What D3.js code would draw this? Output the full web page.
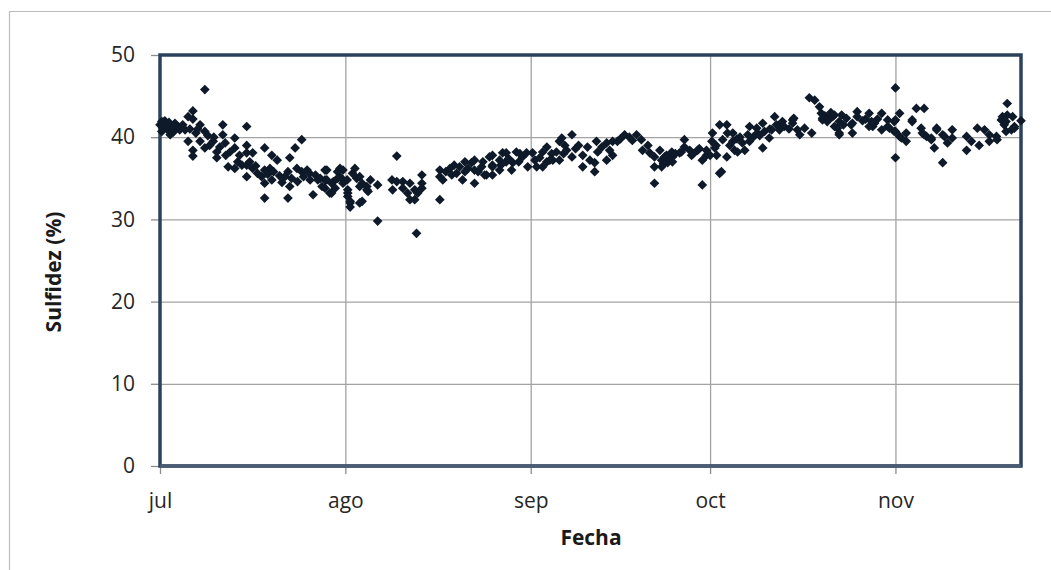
<!DOCTYPE html>
<html>
<head>
<meta charset="utf-8">
<script src="https://cdn.jsdelivr.net/npm/d3@7"></script>
<style>
  body { margin: 0; background: #fff; }
  svg { display: block; font-family: 'Open Sans', sans-serif; }
</style>
</head>
<body>
<svg id="chart"></svg>
<script>
// [dia del mes, sulfidez %]
const julio = [
  [1.0,41.5],[1.3,41.9],[1.3,40.7],[1.5,41.1],[1.8,42.0],[2.2,41.5],[2.3,40.9],[2.5,41.8],[2.7,40.3],[3.0,41.1],
  [3.2,40.6],[3.5,41.7],[3.5,40.9],[4.0,41.3],[4.3,40.9],[4.8,41.5],[5.2,40.9],[5.7,42.5],[5.7,39.5],[6.0,41.0],
  [6.5,43.2],[6.5,42.2],[6.5,38.4],[6.5,37.7],[7.0,40.5],[7.3,41.0],[7.7,41.5],[7.7,39.5],[8.5,45.8],[8.5,40.7],
  [8.5,38.7],[9.0,40.2],[9.3,39.0],[9.9,39.5],[10.0,40.0],[10.5,38.2],[10.5,37.5],[11.0,38.8],[11.5,41.5],[11.5,40.3],
  [11.9,39.3],[12.0,37.8],[12.4,36.4],[12.7,38.2],[13.5,36.2],[13.5,39.9],[13.5,38.7],[14.0,37.0],[14.3,37.8],[14.7,36.6],
  [15.5,41.3],[15.5,39.0],[15.5,38.1],[15.5,36.6],[15.5,35.2],[16.0,37.0],[16.5,38.1],[16.5,36.2],[17.0,36.5],[17.3,35.6],
  [18.0,35.2],[18.5,38.7],[18.5,36.0],[18.5,34.4],[18.5,32.6],[19.0,35.5],[19.4,36.2],[19.7,37.8],[19.7,34.8],[20.0,35.8],
  [20.6,37.2],[21.0,35.3],[21.4,34.5],[21.9,35.2],[22.4,35.8],[22.4,32.6],[22.7,37.5],[22.7,34.0],[23.0,35.0],[23.6,38.7],
  [23.9,36.2],[24.0,34.6],[24.7,39.7],[24.7,35.8],[25.0,35.2],[25.6,36.0],[26.0,35.6],[26.1,34.8],[26.6,33.0],[27.0,35.4],
  [27.4,34.8],[27.8,35.0],[28.1,34.0],[28.6,36.0],[28.6,34.8],[28.6,33.8],[28.9,36.0],[28.9,34.8],[29.4,33.2],[29.7,34.4],
  [29.7,33.2],[30.0,34.6],[30.3,33.8],[30.7,35.8],[30.7,35.0],[31.1,36.2],[31.1,35.2],[31.6,36.0],[31.6,34.8],[31.6,34.4]
]
const agosto = [
  [1.3,34.8],[1.4,33.2],[1.4,33.6],[1.4,32.8],[1.8,32.0],[1.8,31.5],[1.8,32.2],[2.2,35.6],[2.6,36.2],[2.9,35.0],
  [3.4,35.2],[3.4,34.0],[3.4,32.0],[3.8,34.4],[3.8,32.2],[4.6,34.0],[4.6,33.6],[4.8,33.4],[5.2,34.8],[6.4,34.2],
  [6.4,29.8],[8.8,34.8],[8.9,33.6],[9.6,37.7],[9.6,34.6],[10.6,34.6],[10.6,33.8],[11.4,33.2],[11.8,34.4],[11.8,32.4],
  [12.6,32.4],[12.6,33.6],[12.9,28.3],[13.1,33.2],[13.8,35.4],[13.8,34.4],[13.8,33.8],[16.8,32.4],[16.8,36.0],[16.8,35.2],
  [17.3,34.8],[17.8,35.8],[18.5,36.2],[18.8,35.4],[19.2,36.6],[19.6,35.6],[20.1,36.4],[20.6,34.8],[21.0,37.0],[21.0,35.8],
  [21.5,36.2],[22.1,36.9],[22.6,37.2],[22.6,36.0],[22.6,34.4],[23.2,35.8],[23.8,36.4],[24.0,37.0],[24.3,35.4],[24.6,35.4],
  [25.1,37.6],[25.6,36.6],[25.6,35.4],[25.6,37.8],[25.6,36.4],[26.8,37.2],[26.8,36.0],[27.0,36.6],[27.3,38.1],[27.9,38.1],
  [27.9,37.0],[28.3,37.4],[28.8,36.0],[29.0,36.9],[29.6,38.2],[30.0,37.0],[30.2,38.0],[30.6,37.6],[31.3,38.1],[31.5,36.4]
]
const septiembre = [
  [1.3,38.1],[1.7,37.2],[2.0,36.4],[2.5,37.5],[3.0,38.2],[3.0,36.4],[3.7,38.8],[3.7,37.0],[4.2,37.2],[4.5,38.0],
  [4.7,37.2],[5.3,38.2],[5.8,39.5],[5.8,37.2],[6.2,39.9],[6.5,38.0],[6.7,39.0],[7.0,38.4],[7.9,40.3],[7.9,37.6],
  [8.5,38.6],[9.0,39.0],[9.7,37.8],[9.7,36.4],[10.5,38.8],[10.9,37.2],[11.7,36.9],[11.7,35.8],[12.0,39.5],[12.2,38.2],
  [12.9,38.8],[13.7,39.3],[13.7,37.2],[14.2,38.4],[14.7,37.8],[14.7,39.5],[15.5,39.5],[16.0,39.8],[16.7,40.3],[17.5,40.0],
  [18.0,39.6],[18.7,40.3],[19.5,39.7],[19.7,38.4],[20.6,39.0],[20.9,38.1],[21.7,37.6],[21.7,36.4],[21.7,34.4],[22.6,38.4],
  [22.9,37.2],[22.9,36.4],[23.2,36.8],[23.4,37.6],[23.7,37.8],[23.9,36.9],[24.2,37.2],[24.6,38.2],[24.7,37.6],[24.7,37.0],
  [25.2,38.0],[25.9,38.1],[26.2,38.2],[26.7,39.7],[26.7,38.8],[27.6,38.4],[27.9,37.8],[28.2,38.0],[28.9,38.4],[29.2,38.6],
  [29.7,37.2],[29.7,34.2],[30.4,38.4],[30.4,37.8]
]
const octubre = [
  [1.0,37.8],[1.3,39.5],[1.4,40.5],[1.8,38.7],[2.0,39.0],[2.1,37.8],[2.6,41.5],[2.6,35.6],[2.9,35.8],[3.1,39.7],
  [3.8,41.5],[3.8,37.6],[3.9,40.5],[4.3,39.0],[4.8,40.5],[4.8,39.5],[5.1,38.4],[5.5,39.8],[5.6,38.2],[6.0,40.0],
  [6.4,39.3],[6.8,38.4],[7.3,40.3],[7.6,39.5],[7.6,41.3],[8.2,40.0],[8.8,41.1],[8.9,40.5],[9.3,40.2],[9.8,41.7],
  [9.8,38.7],[10.1,40.7],[10.9,39.9],[11.0,41.0],[11.3,40.9],[11.8,42.5],[12.1,41.5],[12.6,40.9],[12.8,41.6],[13.1,41.9],
  [13.4,41.3],[14.2,41.0],[14.8,42.1],[14.8,41.7],[15.0,42.3],[15.6,40.9],[16.0,40.3],[16.8,41.1],[17.6,44.8],[18.0,40.5],
  [18.5,44.5],[19.3,43.7],[19.6,42.9],[19.8,42.3],[19.8,42.1],[20.2,42.6],[20.6,41.9],[21.0,42.3],[21.2,43.0],[21.5,42.5],
  [21.8,41.3],[21.8,42.7],[22.3,41.1],[22.6,41.9],[22.6,40.5],[22.6,40.3],[23.0,42.7],[23.3,41.5],[23.8,42.3],[24.6,41.5],
  [24.8,40.5],[24.8,41.7],[25.6,43.1],[25.6,42.5],[26.5,42.0],[27.0,42.2],[27.6,42.9],[27.6,41.3],[28.0,41.9],[28.2,41.3],
  [28.5,41.7],[29.0,42.2],[29.7,42.9],[29.7,40.9],[30.7,42.1],[30.7,41.3],[31.0,41.1],[31.8,41.9],[31.8,40.7]
]
const noviembre = [
  [1.0,46.0],[1.0,37.5],[1.0,42.1],[1.0,40.7],[1.7,42.9],[1.7,40.1],[2.0,39.9],[2.8,40.5],[2.8,39.5],[3.8,42.1],
  [3.8,41.9],[4.5,43.5],[5.3,41.1],[5.5,40.5],[5.8,43.5],[5.8,40.3],[6.2,40.1],[7.0,39.7],[7.0,39.9],[7.5,38.7],
  [7.9,41.1],[7.9,40.9],[8.9,36.9],[8.9,40.3],[9.2,40.1],[9.7,39.3],[10.5,40.9],[10.5,39.9],[12.9,38.4],[12.9,40.1],
  [13.7,39.5],[14.7,41.1],[15.0,39.0],[15.9,40.9],[16.7,40.3],[16.7,39.5],[17.9,40.1],[18.0,39.7],[18.7,42.1],[18.9,42.5],
  [19.2,41.5],[19.5,41.9],[19.5,40.7],[19.7,44.1],[19.7,42.7],[20.4,40.9],[20.6,42.5],[20.9,41.3],[20.9,41.1],[22.0,42.0]
]

const meses = ['jul', 'ago', 'sep', 'oct', 'nov']
const yTicks = [0, 10, 20, 30, 40, 50]
const tituloX = 'Fecha'
const tituloY = 'Sulfidez (%)'

const width = 1051
const height = 570
const plot = { left: 160, top: 55, right: 1021, bottom: 466 }

const svg = d3.select('#chart')
  .attr('width', width)
  .attr('height', height)

/* Data */
const year = 2009
const porMes = [julio, agosto, septiembre, octubre, noviembre]
let data = []
porMes.forEach((arr, m) => {
  arr.forEach(([dia, valor]) => {
    const t = new Date(year, 6 + m, 1).getTime() + (dia - 1) * 864e5
    data.push({ fecha: new Date(t), valor: valor })
  })
})

/* Scales */
const xScale = d3.scaleTime()
  .domain([new Date(year, 6, 1), new Date(year, 10, 22)])
  .range([plot.left, plot.right])

const yScale = d3.scaleLinear()
  .domain([0, 50])
  .range([plot.bottom, plot.top])

const monthTicks = d3.timeMonth.range(new Date(year, 6, 1), new Date(year, 10, 2))

/* Outer frame (only top and left edges visible) */
svg.append('path')
  .attr('d', 'M9.5,570 V11.5 H1051')
  .attr('fill', 'none')
  .attr('stroke', '#bcbcbc')
  .attr('stroke-width', 1.2)

/* Gridlines */
svg.append('g')
  .attr('transform', 'translate(0,' + plot.bottom + ')')
  .call(d3.axisBottom(xScale).tickValues(monthTicks.slice(1)).tickSize(-(plot.bottom - plot.top)).tickFormat(''))
  .call(g => g.select('.domain').remove())
  .selectAll('line').attr('stroke', '#a3a3a3').attr('stroke-width', 1.3)

svg.append('g')
  .attr('transform', 'translate(' + plot.left + ',0)')
  .call(d3.axisLeft(yScale).tickValues(yTicks.slice(1, -1)).tickSize(-(plot.right - plot.left)).tickFormat(''))
  .call(g => g.select('.domain').remove())
  .selectAll('line').attr('stroke', '#a3a3a3').attr('stroke-width', 1.3)

/* X axis */
const xAxis = svg.append('g')
  .attr('transform', 'translate(0,' + plot.bottom + ')')
  .call(d3.axisBottom(xScale).tickValues(monthTicks).tickFormat((d, i) => meses[i]).tickSize(8).tickPadding(19))
xAxis.select('.domain').remove()
xAxis.selectAll('line').attr('stroke', '#8c8c8c').attr('stroke-width', 1.3)
xAxis.selectAll('text')
  .attr('fill', '#262626')
  .style('font-size', '21px')
  .style('font-family', "'Open Sans', sans-serif")

/* Y axis */
const yAxis = svg.append('g')
  .attr('transform', 'translate(' + plot.left + ',0)')
  .call(d3.axisLeft(yScale).tickValues(yTicks).tickSize(9).tickPadding(16))
yAxis.select('.domain').remove()
yAxis.selectAll('line').attr('stroke', '#8c8c8c').attr('stroke-width', 1.3)
yAxis.selectAll('text')
  .attr('fill', '#262626')
  .style('font-size', '21px')
  .style('font-family', "'Open Sans', sans-serif")

/* Plot border */
svg.append('rect')
  .attr('x', plot.left)
  .attr('y', plot.top)
  .attr('width', plot.right - plot.left)
  .attr('height', plot.bottom - plot.top)
  .attr('fill', 'none')
  .attr('stroke', '#2c425c')
  .attr('stroke-width', 3.5)

svg.append('line')
  .attr('x1', plot.left).attr('x2', plot.right)
  .attr('y1', plot.bottom).attr('y2', plot.bottom)
  .attr('stroke', '#4a5c76')
  .attr('stroke-width', 3.5)

/* Points */
const diamond = d3.symbol().type(d3.symbolDiamond2).size(60)
svg.append('g')
  .selectAll('path')
  .data(data)
  .enter()
    .append('path')
      .attr('d', diamond)
      .attr('transform', d => 'translate(' + xScale(d.fecha) + ',' + yScale(d.valor) + ')')
      .attr('fill', '#0e1a29')

/* Titles */
svg.append('text')
  .attr('x', 591)
  .attr('y', 545)
  .attr('text-anchor', 'middle')
  .style('font-size', '21px')
  .style('font-weight', 'bold')
  .attr('fill', '#1a1a1a')
  .text(tituloX)

svg.append('text')
  .attr('transform', 'translate(61,272) rotate(-90)')
  .attr('text-anchor', 'middle')
  .style('font-size', '21px')
  .style('font-weight', 'bold')
  .attr('fill', '#1a1a1a')
  .text(tituloY)
</script>
</body>
</html>
